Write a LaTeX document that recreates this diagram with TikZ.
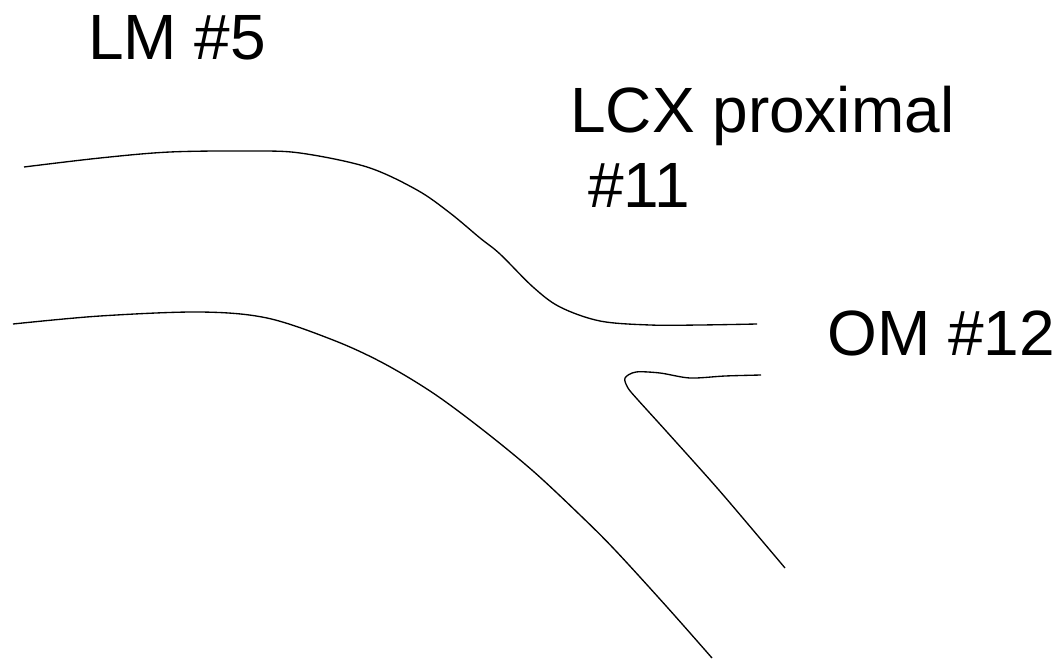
\documentclass[tikz,border=0pt]{standalone}
\usepackage{fontspec}
\setmainfont{Liberation Sans}
\begin{document}
\begin{tikzpicture}[x=0.75pt,y=-0.75pt,
  lbl/.style={anchor=base west,inner sep=0pt,font=\fontsize{48}{56}\selectfont},
  wall/.style={line width=1pt}]
\useasboundingbox (0,0) rectangle (1063,660);
\node[lbl] (lm) at (88,60) {LM \#5};
\node[lbl] (lcx) at (570,132) {LCX proximal};
\node[lbl] (lcxno) at (588,207) {\#11};
\node[lbl] (om) at (827,355) {OM \#12};

% upper wall, LM into OM
\draw[wall] plot[smooth,tension=0.55] coordinates {(24,167) (100,158) (170,152) (250,151) (300,153) (367,167) (417,190) (450,213) (480,238) (500,254) (533,287) (560,307) (600,321) (650,325) (700,325) (757,324)};
% lower wall, LM into LAD side
\draw[wall] plot[smooth,tension=0.55] coordinates {(13,324) (100,316) (200,312) (267,318) (333,340) (383,363) (433,393) (483,430) (533,471) (580,515) (615,550) (667,607) (712,658)};
% carina between OM and LCX distal
\draw[wall] plot[smooth,tension=0.5] coordinates {(761,375) (725,376) (690,378) (660,373) (636,372) (625,378) (628,388) (638,400) (667,432) (718,489) (769,549) (785,568)};
\end{tikzpicture}
\end{document}
